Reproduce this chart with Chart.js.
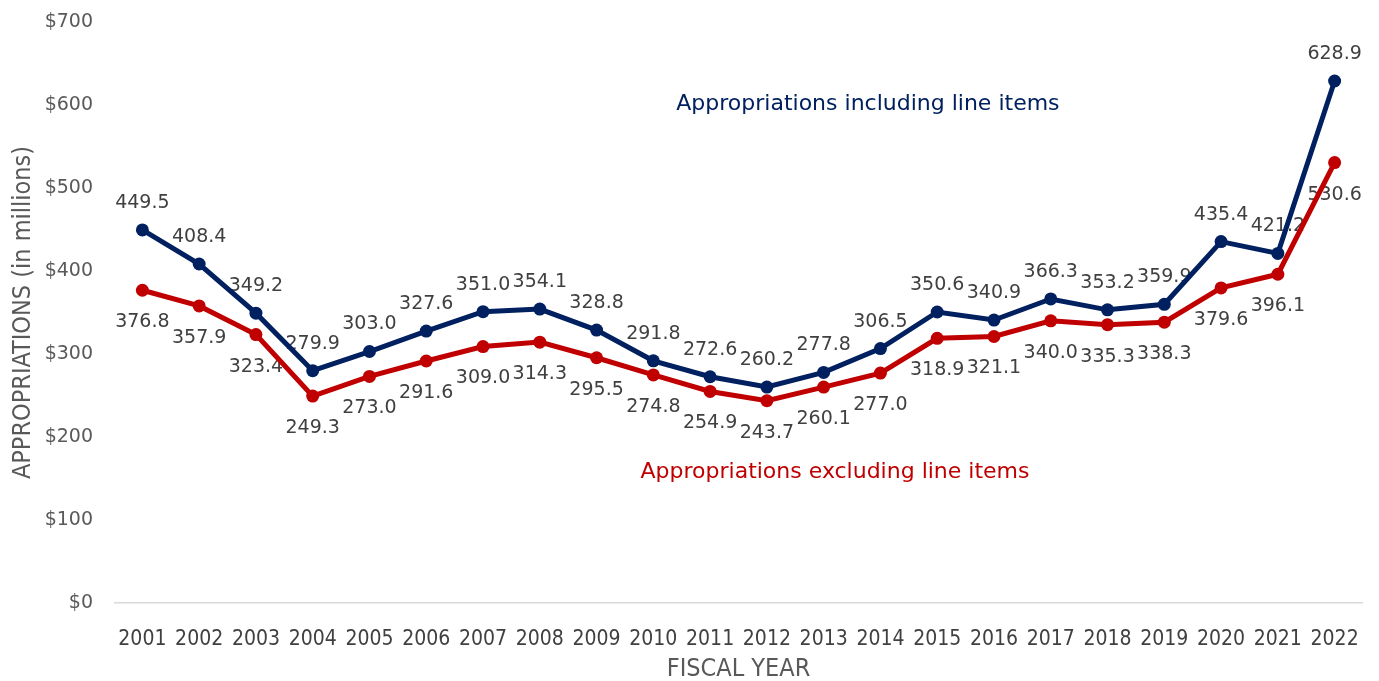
<!DOCTYPE html>
<html>
<head>
<meta charset="utf-8">
<title>Appropriations</title>
<script src="https://cdn.jsdelivr.net/npm/chart.js@4"></script>
<style>
  html, body { margin: 0; padding: 0; background: #ffffff; }
  #wrap { width: 1379px; height: 681px; }
</style>
</head>
<body>
<div id="wrap"><canvas id="myChartAppropriations"></canvas></div>
<script>
// chart data
const years = ['2001', '2002', '2003', '2004', '2005', '2006', '2007', '2008', '2009', '2010', '2011',
  '2012', '2013', '2014', '2015', '2016', '2017', '2018', '2019', '2020', '2021', '2022'];
const includingLineItems = [449.5, 408.4, 349.2, 279.9, 303.0, 327.6, 351.0, 354.1, 328.8, 291.8, 272.6,
  260.2, 277.8, 306.5, 350.6, 340.9, 366.3, 353.2, 359.9, 435.4, 421.2, 628.9];
const excludingLineItems = [376.8, 357.9, 323.4, 249.3, 273.0, 291.6, 309.0, 314.3, 295.5, 274.8, 254.9,
  243.7, 260.1, 277.0, 318.9, 321.1, 340.0, 335.3, 338.3, 379.6, 396.1, 530.6];
const yTicks = [0, 100, 200, 300, 400, 500, 600, 700];

const blue = '#002060';
const red = '#C00000';

// value labels, blue above the points and red below
const valueLabels = {
  id: 'valueLabels',
  beforeDatasetsDraw(chart) {
    const ctx = chart.ctx;
    ctx.save();
    ctx.font = '19px "DejaVu Sans"';
    ctx.fillStyle = '#404040';
    ctx.textAlign = 'center';
    ctx.textBaseline = 'middle';
    chart.data.datasets.forEach((ds, i) => {
      const meta = chart.getDatasetMeta(i);
      const shift = i === 0 ? -27 : 32;
      meta.data.forEach((pt, j) => {
        ctx.fillText(ds.data[j].toFixed(1), pt.x, pt.y + shift);
      });
    });
    ctx.restore();
  }
};

// series names written on the plot
const seriesNames = {
  id: 'seriesNames',
  afterDraw(chart) {
    const ctx = chart.ctx;
    const x = chart.scales.x;
    const y = chart.scales.y;
    ctx.save();
    ctx.font = '22px "DejaVu Sans"';
    ctx.textAlign = 'center';
    ctx.textBaseline = 'middle';
    ctx.fillStyle = blue;
    ctx.fillText('Appropriations including line items', x.getPixelForValue(12.78), y.getPixelForValue(601));
    ctx.fillStyle = red;
    ctx.fillText('Appropriations excluding line items', x.getPixelForValue(12.2), y.getPixelForValue(157));
    ctx.restore();
  }
};

// setup data block
let gdata = {
  labels: years,
  datasets: [
    {
      label: 'Appropriations including line items',
      data: includingLineItems,
      borderColor: blue,
      backgroundColor: blue,
      pointBackgroundColor: blue,
    },
    {
      label: 'Appropriations excluding line items',
      data: excludingLineItems,
      borderColor: red,
      backgroundColor: red,
      pointBackgroundColor: red,
    },
  ],
};

// config block
let config = {
  type: 'line',
  data: gdata,
  plugins: [valueLabels, seriesNames],
  options: {
    responsive: true,
    maintainAspectRatio: false,
    animation: false,
    layout: { padding: { top: 22, right: 16, left: 0, bottom: 0 } },
    elements: {
      line: { borderWidth: 5, tension: 0 },
      point: { radius: 6.5, borderWidth: 0, hoverRadius: 6.5 },
    },
    plugins: {
      legend: { display: false },
      tooltip: { enabled: false },
    },
    scales: {
      x: {
        offset: true,
        grid: { display: false },
        border: { display: false },
        ticks: {
          color: '#404040',
          font: { family: '"DejaVu Sans Condensed"', size: 21 },
          padding: 16,
          maxRotation: 0,
          autoSkip: false,
        },
        title: {
          display: true,
          text: 'FISCAL YEAR',
          color: '#595959',
          font: { family: '"DejaVu Sans Condensed"', size: 25 },
          padding: { top: 0, bottom: -3 },
        },
        afterFit(scale) { scale.height = 78; },
      },
      y: {
        min: 0,
        max: 700,
        afterBuildTicks(scale) { scale.ticks = yTicks.map(v => ({ value: v })); },
        grid: {
          drawTicks: false,
          color: ctx => (ctx.tick && ctx.tick.value === 0 ? '#d9d9d9' : 'rgba(0,0,0,0)'),
          lineWidth: 1.5,
        },
        border: { display: false },
        ticks: {
          color: '#595959',
          font: { family: '"DejaVu Sans"', size: 19 },
          padding: 21,
          callback: v => '$' + v,
        },
        title: {
          display: true,
          text: 'APPROPRIATIONS (in millions)',
          color: '#595959',
          font: { family: '"DejaVu Sans Condensed"', size: 25 },
          padding: { top: 8, bottom: 0 },
        },
        afterFit(scale) {
          scale.width = 114;
          // the tick padding should not push the plot down
          scale.paddingTop = 0;
          scale.paddingBottom = 0;
        },
      },
    },
  },
};

// render block
let myChart = new Chart(
  document.getElementById('myChartAppropriations'),
  config,
);
</script>
</body>
</html>
